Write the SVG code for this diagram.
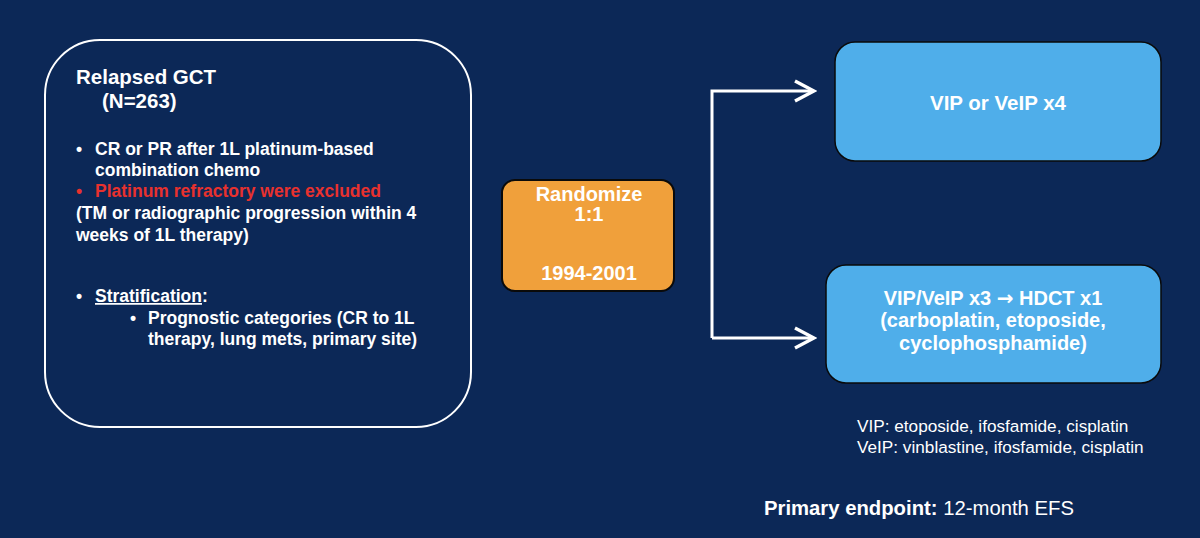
<svg xmlns="http://www.w3.org/2000/svg" width="1200" height="538" viewBox="0 0 1200 538">
<defs>
<style>
text{font-family:"Liberation Sans",Arial,sans-serif;fill:#fff;}
.b{font-weight:bold;}
.l{font-size:17.5px;font-weight:bold;}
.c{text-anchor:middle;}
.conn{fill:none;stroke:#fff;stroke-width:3;}
.blue{fill:#4faeea;stroke:#0a0a0a;stroke-width:1.5;}
</style>
<marker id="chev" viewBox="0 0 24 24" refX="21" refY="12" markerWidth="24" markerHeight="24" markerUnits="userSpaceOnUse" orient="auto">
<path d="M2,2 L21,12 L2,22" fill="none" stroke="#fff" stroke-width="3.4" stroke-linejoin="miter"/>
</marker>
</defs>
<rect width="1200" height="538" fill="#0c2857"/>
<g id="population">
<rect x="45" y="40" width="426" height="387" rx="55" fill="none" stroke="#fff" stroke-width="2"/>
<text x="76" y="84" class="b" font-size="20.5">Relapsed GCT</text>
<text x="102" y="108" class="b" font-size="20.5">(N=263)</text>
<text x="76" y="155" class="l">•</text>
<text x="95" y="155" class="l">CR or PR after 1L platinum-based</text>
<text x="95" y="176" class="l">combination chemo</text>
<text x="76" y="197" class="l" style="fill:#e8312e">•</text>
<text x="95" y="197" class="l" style="fill:#e8312e">Platinum refractory were excluded</text>
<text x="76" y="219" class="l">(TM or radiographic progression within 4</text>
<text x="76" y="241" class="l">weeks of 1L therapy)</text>
<text x="76" y="302" class="l">•</text>
<text x="95" y="302" class="l"><tspan text-decoration="underline">Stratification</tspan>:</text>
<text x="130" y="324" class="l">•</text>
<text x="148" y="324" class="l">Prognostic categories (CR to 1L</text>
<text x="148" y="345" class="l">therapy, lung mets, primary site)</text>
</g>
<g id="randomize">
<rect x="502" y="180" width="172" height="111" rx="13" fill="#f0a03b" stroke="#0a0a0a" stroke-width="2"/>
<text x="589" y="201" class="b c" font-size="20">Randomize</text>
<text x="589" y="221" class="b c" font-size="20">1:1</text>
<text x="589" y="280" class="b c" font-size="20">1994-2001</text>
</g>
<g id="arm1">
<rect x="835" y="42" width="326" height="119" rx="20" class="blue"/>
<text x="998" y="110" class="b c" font-size="20.5">VIP or VeIP x4</text>
</g>
<g id="arm2">
<rect x="826" y="265" width="335" height="118" rx="20" class="blue"/>
<text x="993" y="305" class="b c" font-size="20">VIP/VeIP x3 <tspan style="font-family:'DejaVu Sans',sans-serif">→</tspan> HDCT x1</text>
<text x="993" y="327" class="b c" font-size="20">(carboplatin, etoposide,</text>
<text x="993" y="350" class="b c" font-size="20">cyclophosphamide)</text>
</g>
<g id="connectors">
<path class="conn" d="M712,338 L712,91 L814,91" marker-end="url(#chev)"/>
<path class="conn" d="M712,338 L814,338" marker-end="url(#chev)"/>
</g>
<g id="notes">
<text x="857" y="432" font-size="17.2">VIP: etoposide, ifosfamide, cisplatin</text>
<text x="857" y="453" font-size="17.2">VeIP: vinblastine, ifosfamide, cisplatin</text>
<text x="764" y="515" font-size="20.3"><tspan class="b">Primary endpoint:</tspan> 12-month EFS</text>
</g>
</svg>
